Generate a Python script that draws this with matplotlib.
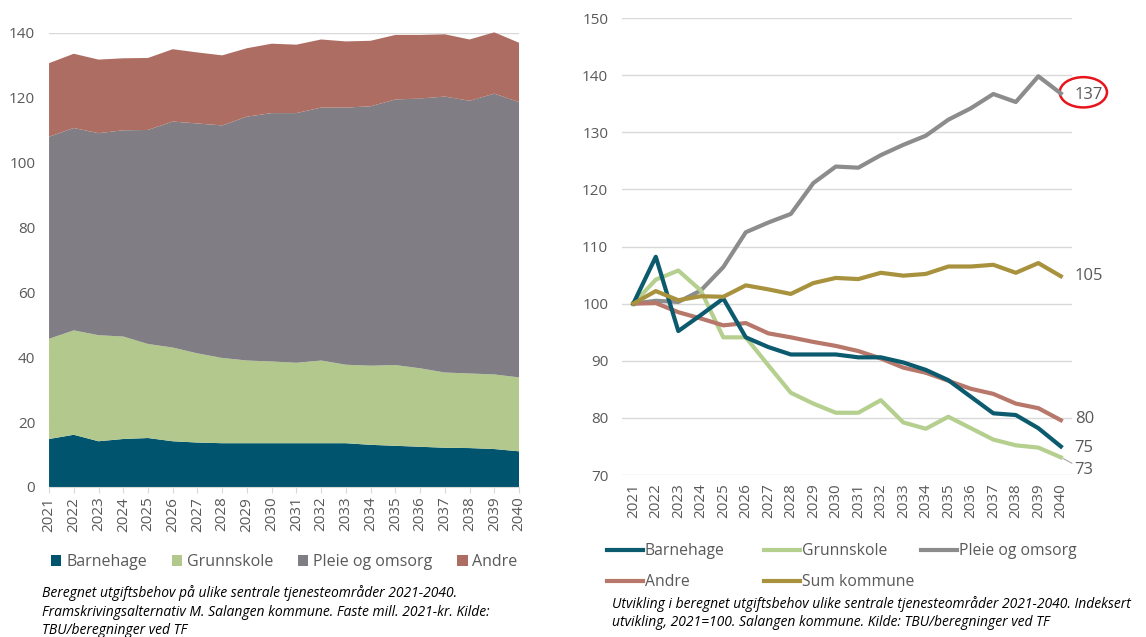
import matplotlib
matplotlib.use("Agg")
import matplotlib.pyplot as plt
from matplotlib.patches import Ellipse
import numpy as np

plt.rcParams['font.family'] = ['Open Sans', 'DejaVu Sans']

years = list(range(2021, 2041))

# left chart: mill. 2021-kr per area (stacked)
barnehage = [14.8, 16.1, 14.1, 14.8, 15.1, 14.1, 13.7, 13.5, 13.5, 13.5,
             13.5, 13.5, 13.5, 13.0, 12.7, 12.4, 12.1, 12.0, 11.7, 11.0]
grunnskole = [30.9, 32.2, 32.7, 31.6, 29.0, 28.9, 27.5, 26.3, 25.5, 25.2,
              24.8, 25.5, 24.2, 24.4, 24.9, 24.2, 23.2, 23.0, 23.0, 22.8]
pleie = [62.3, 62.4, 62.3, 63.6, 66.0, 69.7, 70.9, 71.7, 75.2, 76.6,
         77.0, 78.0, 79.3, 80.0, 81.9, 83.2, 85.1, 84.1, 86.6, 84.9]
andre = [22.7, 22.9, 22.7, 22.2, 22.2, 22.3, 21.9, 21.6, 21.1, 21.4,
         21.1, 21.0, 20.4, 20.2, 19.9, 19.6, 19.2, 18.9, 18.9, 18.3]

# right chart: index 2021=100
idx_barnehage = [100, 108.2, 95.2, 98.0, 100.9, 94.1, 92.4, 91.1, 91.1, 91.1,
                 90.6, 90.6, 89.7, 88.4, 86.6, 83.7, 80.8, 80.5, 78.2, 75.0]
idx_grunnskole = [100, 104.2, 105.8, 102.3, 94.1, 94.1, 89.2, 84.4, 82.5, 80.9,
                  80.9, 83.1, 79.2, 78.1, 80.2, 78.2, 76.2, 75.2, 74.8, 73.1]
idx_pleie = [100, 100.5, 100.3, 102.3, 106.4, 112.5, 114.2, 115.7, 121.1, 124.0,
             123.8, 126.0, 127.8, 129.4, 132.2, 134.2, 136.7, 135.3, 139.8, 136.8]
idx_andre = [100, 100.1, 98.5, 97.4, 96.2, 96.6, 94.8, 94.1, 93.3, 92.6,
             91.7, 90.4, 88.8, 87.9, 86.5, 85.1, 84.2, 82.5, 81.7, 79.6]
idx_sum = [100, 102.2, 100.6, 101.3, 101.2, 103.2, 102.5, 101.7, 103.6, 104.5,
           104.3, 105.4, 104.9, 105.2, 106.5, 106.5, 106.8, 105.4, 107.1, 104.8]

end_labels = ["75", "73", "137", "80", "105"]

c_bh, c_gs, c_po, c_an = '#00546e', '#b3c88c', '#807e84', '#ad6d62'
l_bh, l_gs, l_po, l_an, l_sum = '#0b5a6e', '#b5cf8f', '#8c8c8c', '#b8776b', '#a8923e'
txt = '#595959'
grid = '#d9d9d9'

fig = plt.figure(figsize=(11.46, 6.37), dpi=100)

# ---- left: stacked area
ax1 = fig.add_axes([0.0428, 0.2355, 0.4101, 0.7127])
polys = ax1.stackplot(years, barnehage, grunnskole, pleie, andre,
                      colors=[c_bh, c_gs, c_po, c_an], linewidth=0)
for p in polys:
    p.set_clip_on(False)
ax1.set_xlim(2021, 2040)
ax1.set_ylim(0, 140)
ax1.set_yticks(range(0, 141, 20))
ax1.set_xticks(years)
ax1.set_xticklabels([str(y) for y in years], rotation=90)
ax1.grid(axis='y', color=grid, linewidth=1)
ax1.set_axisbelow(True)
for s in ['top', 'right', 'left']:
    ax1.spines[s].set_visible(False)
ax1.spines['bottom'].set_color(grid)
ax1.tick_params(axis='x', colors=txt, labelsize=11, length=4, color=grid, pad=3)
ax1.tick_params(axis='y', colors=txt, labelsize=11, length=0, pad=10)

ax1.legend(polys, ['Barnehage', 'Grunnskole', 'Pleie og omsorg', 'Andre'],
           ncol=4, loc='center left', bbox_to_anchor=(0.0445, 0.118),
           bbox_transform=fig.transFigure, frameon=False, fontsize=11.5,
           labelcolor=txt, handlelength=0.65, handleheight=0.65,
           handletextpad=0.3, columnspacing=1.55, borderaxespad=0, borderpad=0)

fig.text(0.037, 0.040,
         "Beregnet utgiftsbehov på ulike sentrale tjenesteområder 2021-2040.\n"
         "Framskrivingsalternativ M. Salangen kommune. Faste mill. 2021-kr. Kilde:\n"
         "TBU/beregninger ved TF",
         ha='left', va='center', fontsize=10, style='italic', color='black',
         linespacing=1.3)

# ---- right: index lines
ax2 = fig.add_axes([0.5428, 0.2543, 0.3927, 0.7174])
lw = 3
ax2.plot(years, idx_barnehage, color=l_bh, lw=lw, label='Barnehage', zorder=5)
ax2.plot(years, idx_grunnskole, color=l_gs, lw=lw, label='Grunnskole', zorder=3)
ax2.plot(years, idx_pleie, color=l_po, lw=lw, label='Pleie og omsorg', zorder=2)
ax2.plot(years, idx_andre, color=l_an, lw=lw, label='Andre', zorder=4)
ax2.plot(years, idx_sum, color=l_sum, lw=lw, label='Sum kommune', zorder=6)
ax2.set_xlim(2020.5, 2040.5)
ax2.set_ylim(70, 150)
ax2.set_yticks(range(70, 151, 10))
ax2.set_xticks(years)
ax2.set_xticklabels([str(y) for y in years], rotation=90)
ax2.grid(axis='y', color=grid, linewidth=1)
ax2.set_axisbelow(True)
for s in ax2.spines.values():
    s.set_visible(False)
ax2.tick_params(axis='x', colors=txt, labelsize=11, length=0, pad=6)
ax2.tick_params(axis='y', colors=txt, labelsize=11, length=0, pad=10)

ends = [idx_barnehage[-1], idx_grunnskole[-1], idx_pleie[-1], idx_andre[-1], idx_sum[-1]]
offs = [(10, -1), (10, -9), (10, -1), (10, 1), (10, 0)]
for lab, v, o in zip(end_labels, ends, offs):
    if lab == "73":
        ax2.annotate(lab, xy=(2040, v), xytext=o, textcoords='offset points',
                     ha='left', va='center', fontsize=12, color=txt,
                     arrowprops=dict(arrowstyle='-', color='#a6a6a6', lw=0.8,
                                     shrinkA=0, shrinkB=2))
    else:
        ax2.annotate(lab, xy=(2040, v), xytext=o, textcoords='offset points',
                     ha='left', va='center', fontsize=12, color=txt)

ax2.add_patch(Ellipse((2041.0, 137.0), 2.1, 5.3, fill=False, edgecolor='#e8141b',
                      lw=1.8, clip_on=False))

# legend in three equally spaced columns, like Excel
h, l = ax2.get_legend_handles_labels()
cols = [[0, 3], [1, 4], [2]]
xcol = [607, 764, 921]
for idx, xp in zip(cols, xcol):
    lg = fig.legend([h[i] for i in idx], [l[i] for i in idx],
                    loc='upper left', bbox_to_anchor=(xp / 1146, 0.147),
                    frameon=False, fontsize=11.3, labelcolor=txt,
                    handlelength=2.3, handletextpad=0.1, borderaxespad=0,
                    borderpad=0, labelspacing=0.95)

fig.text(0.534, 0.038,
         "Utvikling i beregnet utgiftsbehov ulike sentrale tjenesteområder 2021-2040. Indeksert\n"
         "utvikling, 2021=100. Salangen kommune. Kilde: TBU/beregninger ved TF",
         ha='left', va='center', fontsize=10, style='italic', color='black',
         linespacing=1.3)

fig.savefig('out.png', dpi=100)
